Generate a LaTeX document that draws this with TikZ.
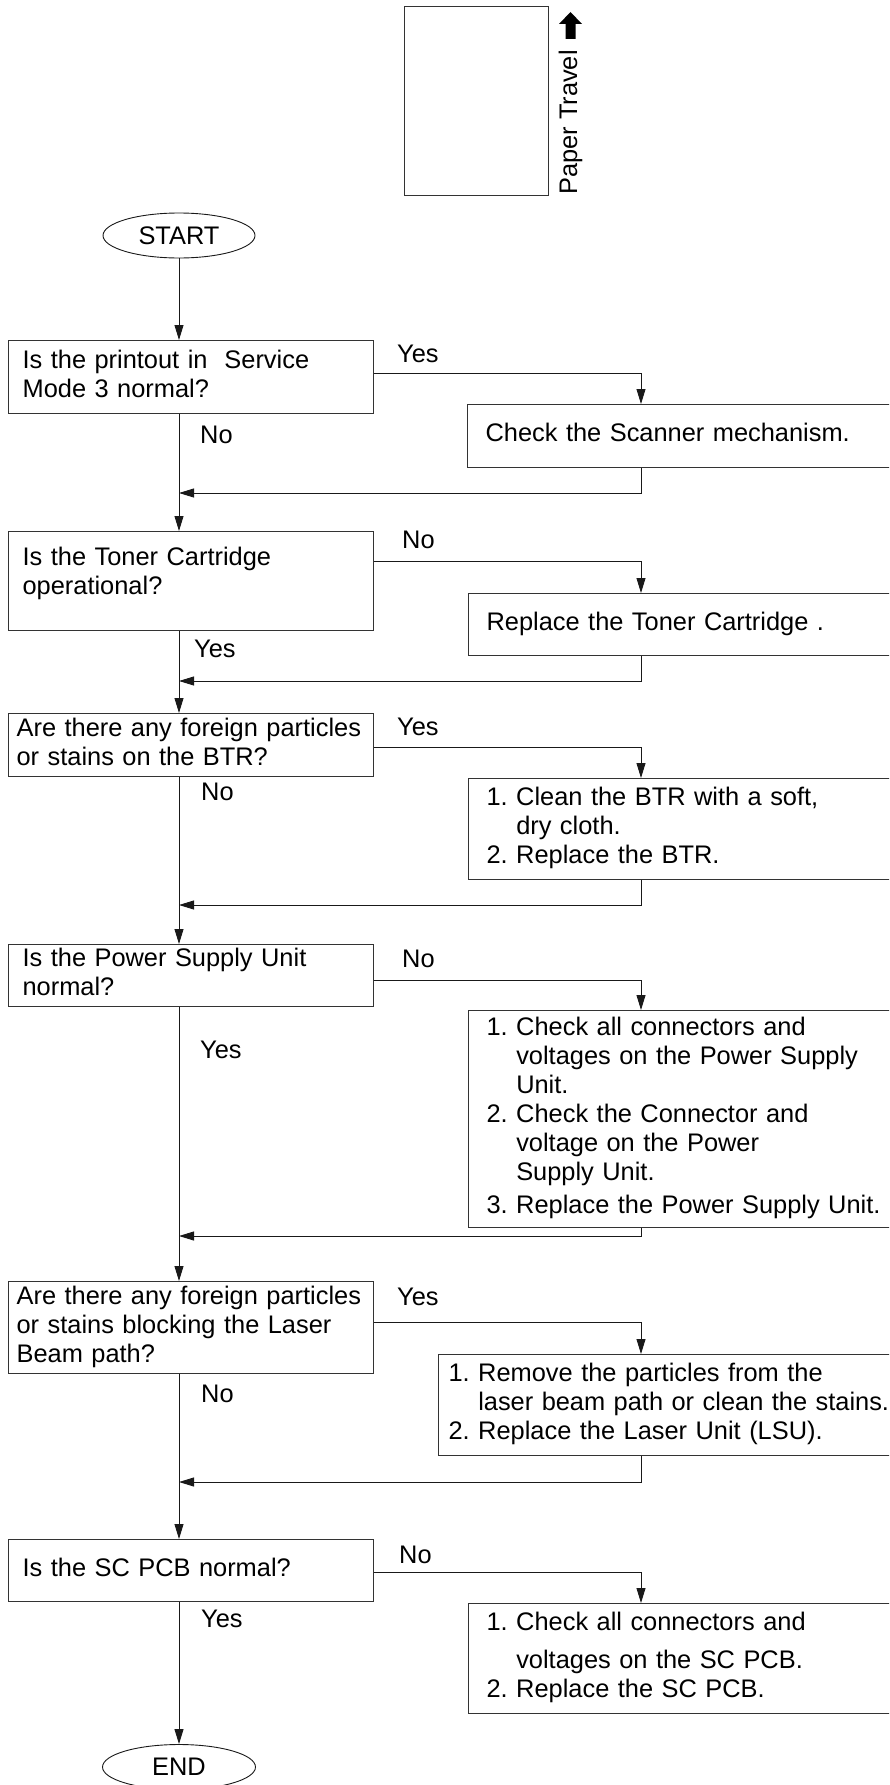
\documentclass[tikz,border=0pt]{standalone}
\usepackage{fontspec}
\setmainfont{Liberation Sans}
\usetikzlibrary{shapes.geometric,arrows.meta}
\frenchspacing
\newcommand{\ind}{\hphantom{1.\ }}
\newcommand{\txtl}[1]{\begin{tabular}{@{}l@{}}#1\end{tabular}}
\begin{document}
\begin{tikzpicture}[x=1pt,y=-1pt,
  font=\fontsize{25.4}{29}\selectfont,
  arr/.style={draw=black!90, line width=0.9pt, -{Triangle[length=15pt,width=9pt]}},
  qbox/.style={draw=black!80, line width=1.2pt, rectangle, anchor=north west,
    minimum width=365pt, inner xsep=14pt, text width=337pt, align=left, inner ysep=0pt},
  qboxw/.style={qbox, inner xsep=8pt, text width=349pt},
  abox/.style={draw=black!80, line width=1.2pt, rectangle, anchor=north west,
    minimum width=500pt, inner xsep=18pt, text width=464pt, align=left, inner ysep=0pt},
  term/.style={draw=black!90, ellipse, line width=0.9pt, minimum width=152pt,
    minimum height=45pt, inner sep=0pt},
  lbl/.style={anchor=base west, inner sep=0pt}]
\useasboundingbox (0,0) rectangle (889,1785);
\clip (0,0) rectangle (889,1785);

% paper travel sketch
\node[draw=black!80, line width=1pt, anchor=north west, minimum width=144pt,
  minimum height=189pt, inner sep=0pt] (paper) at (404,6) {};
\node[rotate=90, lbl] (travel) at (577,195) {Paper Travel};
\fill (570.5,12) -- (582,24) -- (575.5,24) -- (575.5,39) -- (565.5,39)
  -- (565.5,24) -- (559,24) -- cycle;

% terminals
\node[term] (start) at (179,235.5) {START};
\node[term, minimum width=153pt] (end) at (179,1767) {END};

% question boxes
\node[qbox, minimum height=73pt] (b1) at (8,340) {\txtl{Is the printout in\ \ Service\\Mode 3 normal?}};
\node[qbox, minimum height=99pt] (b2) at (8,531) {\raisebox{0pt}[20pt][52pt]{\begin{tabular}[t]{@{}l@{}}Is the Toner Cartridge\\operational?\end{tabular}}};
\node[qboxw, minimum height=63pt] (b3) at (8,713) {\txtl{Are there any foreign particles\\or stains on the BTR?}};
\node[qbox, minimum height=62pt] (b4) at (8,944) {\txtl{Is the Power Supply Unit\\normal?}};
\node[qboxw, minimum height=92pt] (b5) at (8,1281) {\txtl{Are there any foreign particles\\or stains blocking the Laser\\Beam path?}};
\node[qbox, minimum height=62pt] (b6) at (8,1539) {\txtl{Is the SC PCB normal?}};

% action boxes
\node[abox, minimum height=63pt] (r1) at (467,404) {\txtl{Check the Scanner mechanism.}};
\node[abox, minimum height=62pt] (r2) at (468,593) {\txtl{Replace the Toner Cartridge .}};
\node[abox, minimum height=101pt] (r3) at (468,778) {\txtl{1. Clean the BTR with a soft,\\\ind dry cloth.\\2. Replace the BTR.}};
\node[abox, minimum height=217pt] (r4) at (468,1010) {\txtl{1. Check all connectors and\\\ind voltages on the Power Supply\\\ind Unit.\\2. Check the Connector and\\\ind voltage on the Power\\\ind Supply Unit.\\[4pt]3. Replace the Power Supply Unit.}};
\node[abox, minimum width=530pt, inner xsep=10pt, text width=510pt, minimum height=101pt] (r5) at (438,1354) {\txtl{1. Remove the particles from the\\\ind laser beam path or clean the stains.\\2. Replace the Laser Unit (LSU).}};
\node[abox, minimum height=110pt] (r6) at (468,1603) {\txtl{1. Check all connectors and\\[9pt]\ind voltages on the SC PCB.\\2. Replace the SC PCB.}};

% labels
\node[lbl] (l1a) at (397,362) {Yes};
\node[lbl] (l1b) at (200,443) {No};
\node[lbl] (l2a) at (402,548) {No};
\node[lbl] (l2b) at (194,657) {Yes};
\node[lbl] (l3a) at (397,735) {Yes};
\node[lbl] (l3b) at (201,800) {No};
\node[lbl] (l4a) at (402,967) {No};
\node[lbl] (l4b) at (200,1058) {Yes};
\node[lbl] (l5a) at (397,1305) {Yes};
\node[lbl] (l5b) at (201,1402) {No};
\node[lbl] (l6a) at (399,1563) {No};
\node[lbl] (l6b) at (201,1627) {Yes};

% helper coordinates
\coordinate (col) at (641,0);
\coordinate (j1) at (179,493);
\coordinate (j2) at (179,681);
\coordinate (j3) at (179,905);
\coordinate (j4) at (179,1236);
\coordinate (j5) at (179,1482);

% main spine
\draw[arr] (start) -- (start |- b1.north);
\draw[arr] (start |- b1.south) -- (start |- b2.north);
\draw[arr] (start |- b2.south) -- (start |- b3.north);
\draw[arr] (start |- b3.south) -- (start |- b4.north);
\draw[arr] (start |- b4.south) -- (start |- b5.north);
\draw[arr] (start |- b5.south) -- (start |- b6.north);
\draw[arr] (start |- b6.south) -- (end);

% branches
\draw[arr] ([yshift=-33pt]b1.north east) -| (col |- r1.north);
\draw[arr] ([yshift=-30pt]b2.north east) -| (col |- r2.north);
\draw[arr] ([yshift=-34pt]b3.north east) -| (col |- r3.north);
\draw[arr] ([yshift=-36pt]b4.north east) -| (col |- r4.north);
\draw[arr] ([yshift=-41pt]b5.north east) -| (col |- r5.north);
\draw[arr] ([yshift=-33pt]b6.north east) -| (col |- r6.north);

% returns
\draw[arr] (col |- r1.south) |- (j1);
\draw[arr] (col |- r2.south) |- (j2);
\draw[arr] (col |- r3.south) |- (j3);
\draw[arr] (col |- r4.south) |- (j4);
\draw[arr] (col |- r5.south) |- (j5);
\end{tikzpicture}
\end{document}
